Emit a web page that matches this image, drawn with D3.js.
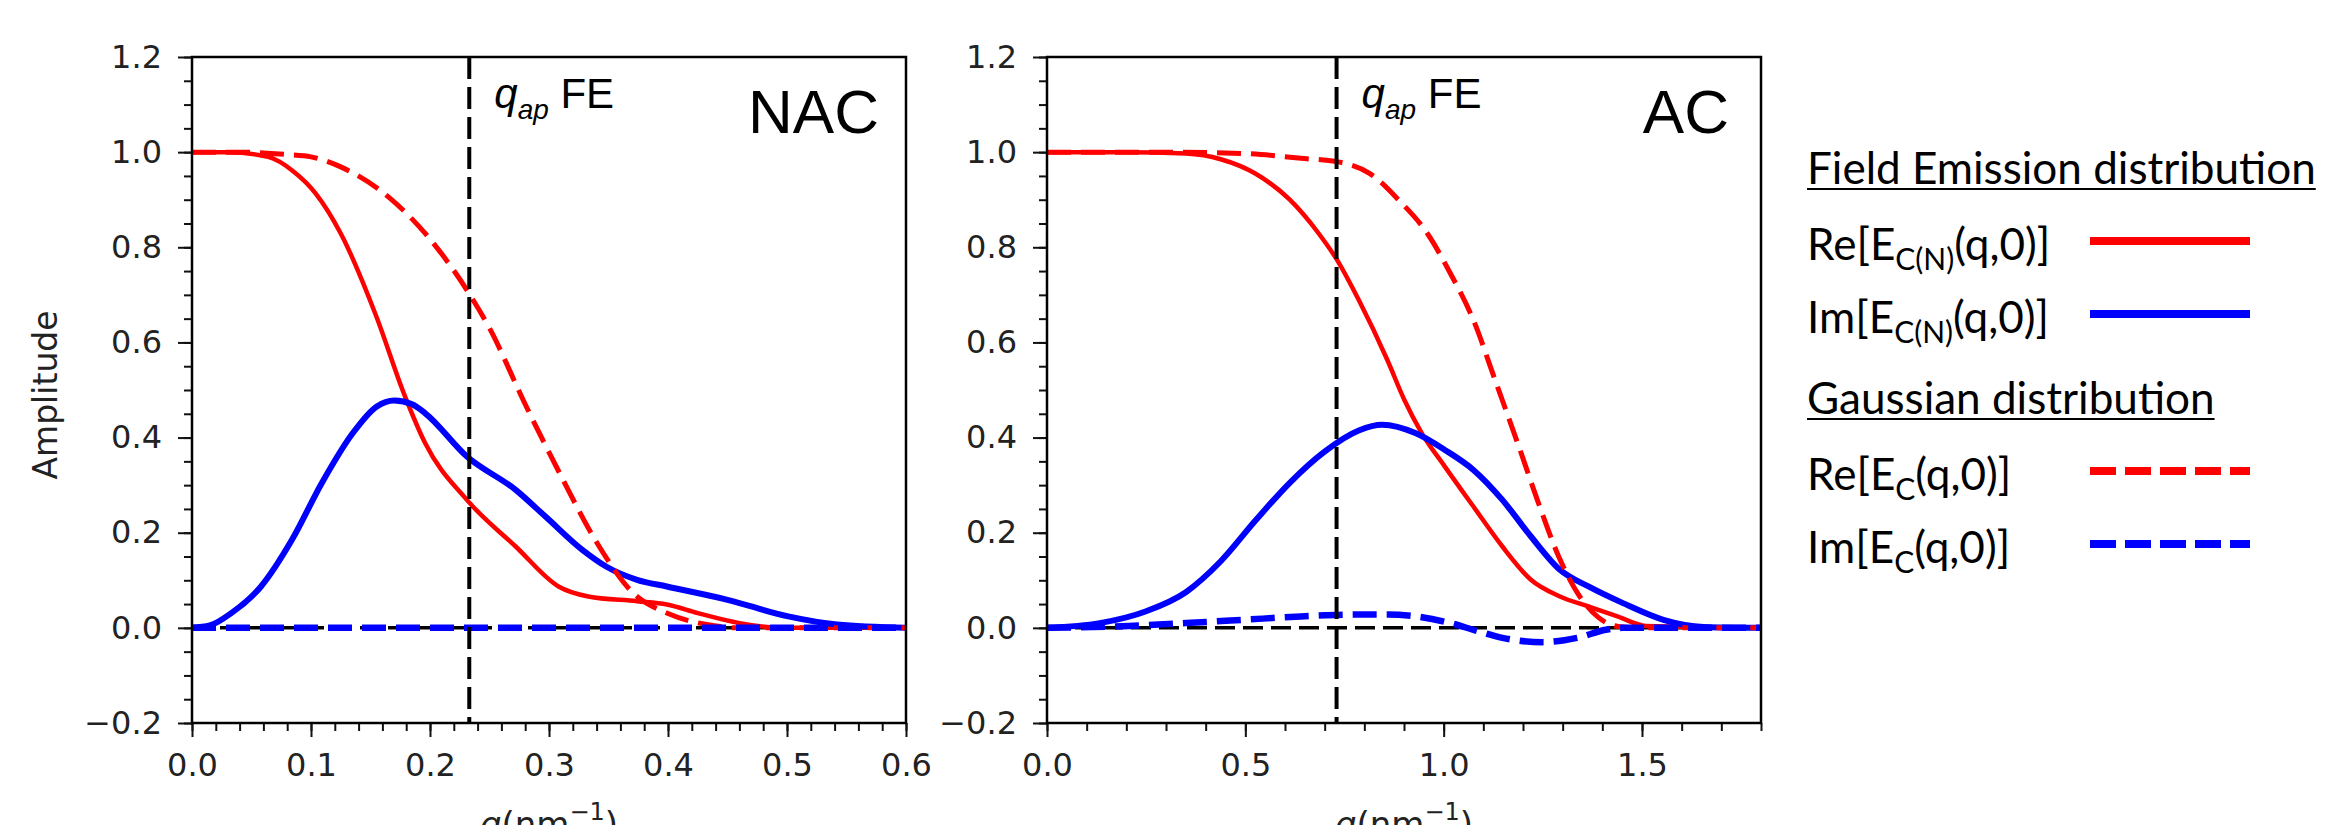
<!DOCTYPE html>
<html>
<head>
<meta charset="utf-8">
<script src="https://cdn.jsdelivr.net/npm/d3@7/dist/d3.min.js"></script>
<style>
  body { margin: 0; background: #fff; }
</style>
</head>
<body>
<div id="chart"></div>
<script>
// ---- data ----
// NAC panel
const nacReFE_q = [0, 0.03, 0.064, 0.085, 0.104, 0.125, 0.155, 0.178, 0.196, 0.231, 0.272, 0.308, 0.333, 0.374, 0.399, 0.425, 0.46, 0.496, 0.54, 0.6];
const nacReFE_a = [1.0, 1.0, 0.99, 0.96, 0.913, 0.829, 0.654, 0.493, 0.388, 0.269, 0.171, 0.087, 0.066, 0.056, 0.049, 0.031, 0.01, 0.0, 0.0, 0.0];
const nacImFE_q = [0, 0.015, 0.033, 0.058, 0.084, 0.109, 0.135, 0.155, 0.170, 0.185, 0.196, 0.231, 0.272, 0.297, 0.328, 0.348, 0.374, 0.399, 0.45, 0.501, 0.542, 0.6];
const nacImFE_a = [0, 0.005, 0.031, 0.087, 0.185, 0.304, 0.409, 0.465, 0.478, 0.47, 0.451, 0.36, 0.29, 0.234, 0.164, 0.129, 0.101, 0.087, 0.059, 0.024, 0.007, 0.0];
const nacReG_q = [0, 0.04, 0.08, 0.1, 0.125, 0.165, 0.196, 0.231, 0.25, 0.28, 0.31, 0.34, 0.37, 0.40, 0.43, 0.46, 0.5, 0.6];
const nacReG_a = [1.0, 1.0, 0.995, 0.99, 0.969, 0.906, 0.829, 0.71, 0.63, 0.47, 0.32, 0.18, 0.075, 0.03, 0.008, 0.0, 0.0, 0.0];
const nacImG_q = [0, 0.3, 0.6];
const nacImG_a = [0, 0, 0];
const nacQap = 0.233;

// AC panel
const acReFE_q = [0, 0.2, 0.35, 0.438, 0.525, 0.612, 0.684, 0.73, 0.786, 0.858, 0.901, 0.945, 1.003, 1.075, 1.148, 1.22, 1.293, 1.365, 1.438, 1.51, 1.8];
const acReFE_a = [1.0, 1.0, 0.997, 0.985, 0.955, 0.9, 0.83, 0.775, 0.689, 0.563, 0.479, 0.409, 0.339, 0.255, 0.171, 0.101, 0.066, 0.045, 0.024, 0.004, 0];
const acImFE_q = [0, 0.133, 0.25, 0.35, 0.438, 0.525, 0.612, 0.699, 0.786, 0.845, 0.93, 1.003, 1.075, 1.148, 1.22, 1.293, 1.365, 1.452, 1.554, 1.655, 1.8];
const acImFE_a = [0, 0.01, 0.035, 0.075, 0.14, 0.225, 0.305, 0.37, 0.415, 0.427, 0.409, 0.374, 0.332, 0.269, 0.192, 0.122, 0.087, 0.052, 0.017, 0.002, 0];
const acReG_q = [0, 0.3, 0.5, 0.64, 0.73, 0.814, 0.887, 0.959, 1.017, 1.075, 1.13, 1.19, 1.24, 1.29, 1.34, 1.39, 1.44, 1.5, 1.8];
const acReG_a = [1, 1, 0.997, 0.987, 0.98, 0.955, 0.899, 0.829, 0.745, 0.647, 0.52, 0.38, 0.26, 0.15, 0.07, 0.022, 0.003, 0, 0];
const acImG_q = [0, 0.206, 0.35, 0.496, 0.64, 0.786, 0.86, 0.93, 1.017, 1.075, 1.148, 1.249, 1.336, 1.409, 1.45, 1.8];
const acImG_a = [0, 0.004, 0.01, 0.017, 0.024, 0.028, 0.028, 0.024, 0.01, -0.004, -0.021, -0.03, -0.021, -0.004, 0, 0];
const acQap = 0.73;

// axis ticks
const yTicks = [-0.2, 0.0, 0.2, 0.4, 0.6, 0.8, 1.0, 1.2];
const nacXTicks = [0.0, 0.1, 0.2, 0.3, 0.4, 0.5, 0.6];
const acXTicks = [0.0, 0.5, 1.0, 1.5];

// legend
const legendHeadings = ["Field Emission distribution", "Gaussian distribution"];
const legendRows = [
    ["Re[E", "C(N)", "(q,0)]"],
    ["Im[E", "C(N)", "(q,0)]"],
    ["Re[E", "C", "(q,0)]"],
    ["Im[E", "C", "(q,0)]"]
];

// ---- layout ----
const width = 2326;
const height = 825;
const plotY = {top: 57, bottom: 723};

const svg = d3.select("#chart")
    .append("svg")
    .attr("width", width)
    .attr("height", height)
    .style("background", "#fff");

const y = d3.scaleLinear().domain([-0.2, 1.2]).range([plotY.bottom, plotY.top]);

// line styles for the four curves
const styles = [
    {color: "#ff0000", width: 4.5, dash: null},
    {color: "#0000ff", width: 6, dash: null},
    {color: "#ff0000", width: 5, dash: "24,10"},
    {color: "#0000ff", width: 6.5, dash: "24,10"}
];

function drawPanel(p) {
    const x = d3.scaleLinear().domain([0, p.xMax]).range([p.left, p.right]);

    // zero line
    svg.append("line")
        .attr("x1", p.left).attr("x2", p.right)
        .attr("y1", y(0)).attr("y2", y(0))
        .attr("stroke", "#000")
        .attr("stroke-width", 3.5)
        .attr("stroke-dasharray", "20,8");

    const line = d3.line()
        .x(d => x(d[0]))
        .y(d => y(d[1]))
        .curve(d3.curveMonotoneX);

    p.series.forEach((s, i) => {
        svg.append("path")
            .datum(d3.zip(s[0], s[1]))
            .attr("fill", "none")
            .attr("stroke", styles[i].color)
            .attr("stroke-width", styles[i].width)
            .attr("stroke-dasharray", styles[i].dash)
            .attr("d", line);
    });

    // q_ap marker
    svg.append("line")
        .attr("x1", x(p.qap)).attr("x2", x(p.qap))
        .attr("y1", plotY.top).attr("y2", plotY.bottom)
        .attr("stroke", "#000")
        .attr("stroke-width", 4)
        .attr("stroke-dasharray", "22,8");

    // minor ticks
    svg.append("g")
        .attr("transform", `translate(0,${plotY.bottom})`)
        .call(d3.axisBottom(x).tickValues(d3.range(0, p.xMax + 1e-9, p.minorStep)).tickSize(8).tickFormat(""))
        .call(g => g.select(".domain").remove());
    svg.append("g")
        .attr("transform", `translate(${p.left},0)`)
        .call(d3.axisLeft(y).tickValues(d3.range(-0.2, 1.2 + 1e-9, 0.05)).tickSize(8).tickFormat(""))
        .call(g => g.select(".domain").remove());

    // major ticks
    const xAxis = svg.append("g")
        .attr("transform", `translate(0,${plotY.bottom})`)
        .call(d3.axisBottom(x).tickValues(p.xTicks).tickSize(14).tickPadding(16).tickFormat(d3.format(".1f")));
    const yAxis = svg.append("g")
        .attr("transform", `translate(${p.left},0)`)
        .call(d3.axisLeft(y).tickValues(yTicks).tickSize(14).tickPadding(16).tickFormat(d3.format(".1f")));

    [xAxis, yAxis].forEach(a => {
        a.select(".domain").remove();
        a.attr("font-family", "DejaVu Sans").attr("font-size", 32);
        a.selectAll("text").attr("fill", "#222");
    });
    svg.selectAll(".tick line").attr("stroke", "#111").attr("stroke-width", 2);

    // frame
    svg.append("rect")
        .attr("x", p.left).attr("y", plotY.top)
        .attr("width", p.right - p.left)
        .attr("height", plotY.bottom - plotY.top)
        .attr("fill", "none")
        .attr("stroke", "#000")
        .attr("stroke-width", 2.5);

    // q_ap FE
    const qt = svg.append("text")
        .attr("x", x(p.qap) + 25)
        .attr("y", 108)
        .attr("font-family", "Liberation Sans")
        .attr("font-size", 42);
    qt.append("tspan").attr("font-style", "italic").text("q");
    qt.append("tspan").attr("font-style", "italic").attr("font-size", 28).attr("dy", 11).text("ap");
    qt.append("tspan").attr("dy", -11).text(" FE");

    // panel name
    svg.append("text")
        .attr("x", p.labelRight)
        .attr("y", 133)
        .attr("text-anchor", "end")
        .attr("font-family", "Liberation Sans")
        .attr("font-size", 62)
        .text(p.label);

    // x label (runs off the bottom edge, as in the figure)
    const xl = svg.append("text")
        .attr("x", (p.left + p.right) / 2)
        .attr("y", 836)
        .attr("text-anchor", "middle")
        .attr("font-family", "DejaVu Sans")
        .attr("font-size", 34)
        .attr("fill", "#222");
    xl.append("tspan").attr("font-style", "italic").text("q");
    xl.append("tspan").text("(nm");
    xl.append("tspan").attr("font-size", 24).attr("dy", -16).text("\u22121");
    xl.append("tspan").attr("dy", 16).text(")");
}

drawPanel({
    left: 192, right: 906, xMax: 0.6, minorStep: 0.02,
    xTicks: nacXTicks, qap: nacQap, label: "NAC", labelRight: 879,
    series: [[nacReFE_q, nacReFE_a], [nacImFE_q, nacImFE_a], [nacReG_q, nacReG_a], [nacImG_q, nacImG_a]]
});
drawPanel({
    left: 1047, right: 1761, xMax: 1.8, minorStep: 0.1,
    xTicks: acXTicks, qap: acQap, label: "AC", labelRight: 1729,
    series: [[acReFE_q, acReFE_a], [acImFE_q, acImFE_a], [acReG_q, acReG_a], [acImG_q, acImG_a]]
});

// y label
svg.append("text")
    .attr("transform", "translate(57,395) rotate(-90)")
    .attr("text-anchor", "middle")
    .attr("font-family", "DejaVu Sans")
    .attr("font-size", 33)
    .attr("fill", "#222")
    .text("Amplitude");

// ---- legend ----
const legendX = 1807;
const legend = svg.append("g").attr("font-family", "Lato").attr("fill", "#000");

// size the font so the first heading spans like in the figure
const probe = legend.append("text").attr("font-size", 40).text(legendHeadings[0]);
const fs = 40 * 509 / probe.node().getComputedTextLength();
probe.remove();

const headingY = [184, 414];
legendHeadings.forEach((h, i) => {
    const t = legend.append("text")
        .attr("x", legendX)
        .attr("y", headingY[i])
        .attr("font-size", fs)
        .text(h);
    const w = t.node().getComputedTextLength();
    legend.append("line")
        .attr("x1", legendX).attr("x2", legendX + w)
        .attr("y1", headingY[i] + 5).attr("y2", headingY[i] + 5)
        .attr("stroke", "#000")
        .attr("stroke-width", 2);
});

const rowY = [260, 333, 490, 563];
legendRows.forEach((r, i) => {
    const t = legend.append("text")
        .attr("x", legendX)
        .attr("y", rowY[i])
        .attr("font-size", fs);
    t.append("tspan").text(r[0]);
    t.append("tspan").attr("font-size", fs * 0.68).attr("dy", 10).text(r[1]);
    t.append("tspan").attr("dy", -10).text(r[2]);

    legend.append("line")
        .attr("x1", 2090).attr("x2", 2250)
        .attr("y1", rowY[i] - 19).attr("y2", rowY[i] - 19)
        .attr("stroke", styles[i].color)
        .attr("stroke-width", 8)
        .attr("stroke-dasharray", i < 2 ? null : "26,9");
});
</script>
</body>
</html>
